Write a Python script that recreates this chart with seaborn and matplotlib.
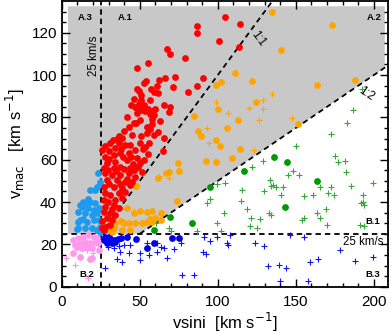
import numpy as np
import pandas as pd
import matplotlib
matplotlib.use('Agg')
import matplotlib.pyplot as plt
import seaborn as sns

# A.1 - red filled circles
red_x = [86.4, 86.4, 67.7, 69.4, 78.9, 55.1, 48.2, 66.4, 72.5, 90.5, 52.7, 71.4, 48.0, 49.5,
         57.2, 61.1, 59.2, 61.5, 80.6, 50.8, 49.5, 47.1, 52.5, 56.6, 48.6, 51.4, 55.1, 53.6,
         60.0, 57.9, 65.2, 69.4, 69.0, 59.4, 48.4, 56.8, 42.0, 57.9, 47.6, 46.5, 54.4, 56.6,
         54.9, 58.9, 65.4, 36.8, 35.6, 38.6, 45.0, 50.8, 31.1, 36.4, 40.7, 43.9, 50.4, 53.6,
         56.1, 64.7, 104.9, 114.3, 100.8, 113.9, 86.9,
         25.7, 27.9, 33.2, 37.5, 42.9, 47.2, 28.9, 34.3, 41.8, 48.2, 50.4, 26.8, 33.2, 37.5,
         43.9, 51.5, 27.9, 32.2, 37.5, 42.9, 47.2, 28.9, 35.4, 40.7, 45.0, 26.8, 33.2, 38.6,
         43.9, 27.9, 31.1, 36.5, 40.7, 26.8, 34.3, 38.6, 27.9, 33.2, 36.5, 26.8, 31.1, 34.3,
         28.9, 32.2, 27.9, 31.1, 26.8, 25.7,
         30.0, 39.5, 45.5, 29.5, 35.0, 40.0, 30.5, 37.0, 42.0, 29.5, 32.0, 25.8, 30.0, 44.5,
         46.0, 49.0, 53.0, 55.0, 52.0, 38.0, 34.0, 28.0, 33.0, 40.0, 43.0, 50.0, 44.5, 46.5,
         51.0, 54.0, 62.0, 58.0, 61.5, 63.0]
red_y = [123.2, 120.1, 112.5, 109.9, 108.3, 105.9, 103.2, 98.8, 99.1, 98.8, 96.2, 94.4, 93.6, 92.7,
         93.6, 94.9, 92.1, 91.4, 92.2, 88.0, 86.2, 84.8, 85.9, 88.3, 83.9, 83.6, 84.2, 82.8,
         84.0, 82.8, 85.9, 85.1, 82.6, 81.2, 82.0, 81.7, 80.2, 79.1, 77.2, 77.2, 75.7, 74.4,
         72.8, 71.7, 70.5, 71.3, 69.7, 70.3, 71.7, 71.0, 67.8, 67.8, 67.0, 67.0, 67.8, 66.2,
         67.8, 64.3, 127.6, 124.2, 116.0, 113.5, 95.0,
         64.6, 61.4, 62.2, 63.0, 63.0, 64.6, 58.3, 59.1, 59.8, 60.6, 58.3, 55.9, 55.9, 56.7,
         55.9, 54.3, 53.6, 52.8, 52.8, 53.6, 52.0, 50.4, 50.4, 49.6, 49.6, 47.3, 47.3, 46.5,
         48.0, 44.1, 43.3, 44.1, 44.9, 41.0, 41.0, 41.7, 37.8, 38.6, 37.0, 35.4, 34.7, 33.9,
         32.3, 31.5, 28.4, 29.1, 26.8, 27.6,
         60.5, 61.5, 58.0, 55.0, 54.5, 55.5, 48.5, 48.5, 51.0, 40.0, 36.5, 31.0, 64.0, 61.5,
         55.0, 56.5, 60.0, 62.5, 65.0, 65.0, 65.5, 66.5, 69.5, 73.5, 75.5, 79.0, 86.0, 88.5,
         90.5, 97.0, 97.5, 77.0, 73.0, 78.5]

# A.2 - orange circles and crosses
orange_x = [134.5, 173.5, 140.5, 111.0, 122.0, 101.8, 99.0, 163.7, 187.9, 124.3, 100.3, 84.9,
            113.2, 106.1, 87.0, 89.4, 98.6, 101.4, 114.5, 151.2, 109.3, 92.6, 98.6, 74.4, 75.1,
            68.6, 67.1, 61.5, 47.8, 41.8, 74.0, 46.5, 50.4, 54.7, 57.9, 63.7, 29.4, 33.2, 31.1,
            34.3, 38.2, 39.7, 42.9, 47.2, 51.5, 54.7, 57.9, 56.8, 60.0, 63.3, 38.6, 43.9, 32.2]
orange_y = [130.0, 123.5, 112.0, 101.2, 97.3, 96.6, 95.2, 95.5, 97.9, 87.5, 84.2, 80.7,
            78.8, 75.2, 73.6, 71.0, 69.1, 66.7, 65.0, 76.9, 60.7, 59.5, 58.7, 58.6, 54.8,
            54.0, 53.6, 51.2, 47.6, 37.0, 40.5, 35.0, 35.9, 35.4, 35.9, 35.0, 26.8, 27.6, 30.7,
            29.9, 30.9, 30.0, 30.2, 30.2, 30.0, 30.7, 30.7, 31.8, 32.3, 31.5, 26.8, 26.8, 26.0]
orange_px = [134.9, 98.6, 129.1, 120.1, 129.1, 106.5, 126.1, 93.0, 94.3, 123.5, 147.8, 62.2, 68.6, 46.1]
orange_py = [91.1, 87.2, 88.0, 84.3, 83.9, 82.2, 78.8, 75.2, 67.8, 64.6, 79.9, 52.3, 51.2, 35.8]

# A.3 - light blue circles
lblue_x = [22.9, 21.4, 18.2, 24.6, 22.5, 15.0, 18.2, 21.4, 11.8, 13.5, 16.5, 12.9, 17.1, 20.4,
           23.6, 10.7, 15.0, 19.3, 22.5, 11.8, 16.1, 20.4, 23.6, 13.9, 10.3, 10.7, 15.0, 19.3,
           22.5, 24.6, 9.6, 24.6]
lblue_y = [53.6, 45.7, 45.7, 49.6, 47.3, 39.4, 40.2, 39.4, 38.6, 40.2, 41.3, 37.8, 37.0, 36.2,
           37.0, 35.4, 34.7, 33.9, 34.7, 31.5, 30.7, 31.5, 31.5, 31.8, 30.7, 27.6, 27.6, 27.6,
           26.8, 28.0, 27.4, 25.8]

# B.2 - pink circles and crosses
pink_x = [7.5, 10.7, 13.9, 17.1, 20.4, 22.5, 8.6, 11.8, 15.0, 18.2, 21.4, 9.6, 12.8, 16.1,
          19.3, 7.5, 11.8, 19.3, 23.6, 23.1, 18.2]
pink_y = [22.1, 22.8, 23.6, 24.4, 23.6, 22.8, 19.7, 20.5, 21.3, 20.5, 21.3, 18.9, 18.1, 18.9,
          18.1, 15.8, 14.2, 13.4, 17.3, 20.5, 13.0]
pink_px = [2.8, 8.6, 16.1, 17.1, 14.0, 20.0]
pink_py = [13.4, 10.2, 17.3, 4.0, 20.0, 16.0]

# B.3 - blue circles and crosses
blue_x = [27.9, 30.7, 33.2, 35.8, 28.9, 32.2, 34.3, 37.9, 41.8, 47.8, 54.7, 59.0, 70.8, 75.1, 26.8, 30.0]
blue_y = [23.6, 22.4, 22.1, 22.5, 20.8, 20.5, 21.0, 22.8, 23.3, 22.4, 18.1, 20.8, 22.8, 22.8, 22.1, 23.6]
blue_px = [29.9, 33.2, 36.4, 39.7, 44.0, 37.5, 42.9, 50.4, 55.8, 61.1, 65.4, 67.6, 50.4, 54.7,
           27.9, 77.2, 84.7, 61.1, 35.4, 38.6, 91.2, 95.0, 99.8, 107.9, 106.2, 106.6, 124.0,
           129.4, 90.8, 92.7, 146.5, 155.1, 178.5, 187.7, 199.5, 164.1, 159.0, 132.4, 139.4,
           143.7, 140.1, 158.1, 71.8, 76.1, 63.3]
blue_py = [18.9, 18.1, 19.2, 19.7, 19.7, 16.5, 15.7, 15.7, 15.0, 16.5, 18.1, 13.4, 12.6, 20.5,
           8.7, 5.5, 5.5, 20.5, 12.9, 11.9, 23.4, 21.6, 23.4, 24.5, 20.5, 19.7, 20.8,
           19.3, 16.3, 15.3, 24.3, 23.4, 17.4, 12.3, 14.2, 13.3, 11.6, 9.8, 10.3,
           8.7, 2.7, 2.7, 17.7, 20.5, 18.6]

# B.1 - green circles and crosses
green_x = [59.0, 69.6, 83.7, 94.8, 117.0, 135.8, 144.2, 163.5, 143.2]
green_y = [26.8, 33.1, 30.2, 47.0, 54.9, 61.2, 59.0, 50.1, 37.5]
green_px = [177.0, 181.7, 181.9, 144.8, 148.2, 152.3, 133.4, 134.1, 129.4, 140.5, 141.6, 104.5,
            99.8, 115.8, 114.8, 104.1, 99.3, 101.9, 93.3, 94.8, 118.6, 121.2, 126.8, 120.8,
            124.9, 133.0, 134.1, 154.0, 155.5, 155.5, 161.1, 165.4, 169.3, 170.1, 163.7, 165.2,
            172.3, 170.5, 174.4, 185.6, 192.9, 193.1, 191.6, 193.5, 199.7, 193.7, 191.4, 86.5,
            129.1, 121.8, 135.5, 137.6, 192.6, 186.6, 182.6, 172.7, 150.2, 175.3, 68.6, 69.7, 60.7]
green_py = [59.1, 59.6, 54.4, 52.8, 54.9, 52.8, 50.5, 47.8, 45.4, 43.4, 47.3, 48.9,
            48.6, 45.7, 40.7, 35.0, 30.3, 26.5, 39.4, 41.3, 36.6, 32.3, 31.9, 28.9,
            27.6, 34.7, 33.9, 31.6, 32.3, 42.9, 43.2, 32.7, 36.6, 29.2, 35.0, 47.3,
            47.3, 44.2, 43.4, 47.6, 43.4, 40.2, 39.4, 38.6, 48.9, 28.7, 29.2, 26.4,
            59.5, 56.5, 48.0, 47.3, 93.3, 83.5, 77.2, 72.2, 66.5, 61.8, 27.6, 26.5, 30.2]

XMAX, YMAX = 209, 135

plt.rcParams['font.family'] = ['Liberation Sans', 'DejaVu Sans']
fig = plt.figure(figsize=(3.91, 3.33), dpi=100)
ax = fig.add_axes([0.158, 0.139, 0.834, 0.858])

# shaded region A
ax.fill([4, 4, 207, 207, 50], [25, 132.5, 132.5, 103.5, 25], color='#c8c8c8', lw=0, zorder=0)

dash = (0, (3, 2.2))
ax.plot([25, 25], [0, YMAX], color='black', ls=dash, lw=1.3, zorder=1)
ax.plot([0, XMAX], [25, 25], color='black', ls=dash, lw=1.3, zorder=1)
ax.plot([25, YMAX], [25, YMAX], color='black', ls=dash, lw=1.3, zorder=1)
ax.plot([50, XMAX], [25, XMAX / 2], color='black', ls=dash, lw=1.3, zorder=1)

circ = dict(s=24, linewidth=0, zorder=3, ax=ax, legend=False)
plus = dict(marker='+', s=22, linewidth=0.8, zorder=3, ax=ax, legend=False)

sns.scatterplot(x=blue_px, y=blue_py, color='#1010ff', **plus)
sns.scatterplot(x=green_px, y=green_py, color='#33aa33', **plus)
sns.scatterplot(x=orange_px, y=orange_py, color='#ffa500', **plus)
sns.scatterplot(x=pink_px, y=pink_py, color='#ff90f0', **plus)
sns.scatterplot(x=pink_x, y=pink_y, color='#ff99ee', **circ)
sns.scatterplot(x=lblue_x, y=lblue_y, color='#1e9bf0', **circ)
sns.scatterplot(x=blue_x, y=blue_y, color='#0000ee', **circ)
sns.scatterplot(x=green_x, y=green_y, color='#009900', **circ)
sns.scatterplot(x=orange_x, y=orange_y, color='#ffa500', **circ)
sns.scatterplot(x=red_x, y=red_y, color='#ff0000', **circ)

lab = dict(fontsize=6.8, fontweight='bold', color='black', zorder=4)
ax.text(10, 127, 'A.3', ha='left', va='center', **lab)
ax.text(36, 127, 'A.1', ha='left', va='center', **lab)
ax.text(205, 127, 'A.2', ha='right', va='center', **lab)
ax.text(204, 31, 'B.1', ha='right', va='center', **lab)
ax.text(204, 6, 'B.3', ha='right', va='center', **lab)
ax.text(11, 6, 'B.2', ha='left', va='center', **lab)
kms = dict(fontsize=8.3, color='black', zorder=4)
ax.text(206, 21, '25 km/s', ha='right', va='center', **kms)
ax.text(20.5, 109, '25 km/s', ha='center', va='center', rotation=90, **kms)
ax.text(126, 117, '1:1', ha='center', va='center', rotation=-54, **kms)
ax.text(195.5, 91.3, '1:2', ha='center', va='center', rotation=-34, **kms)

ax.set_xlim(0, XMAX)
ax.set_ylim(0, YMAX)
ax.set_xticks([0, 50, 100, 150, 200])
ax.set_xticks(np.arange(0, XMAX, 10), minor=True)
ax.set_yticks([0, 20, 40, 60, 80, 100, 120])
ax.set_yticks(np.arange(0, YMAX, 5), minor=True)
ax.tick_params(which='both', direction='in', top=True, right=True, labelsize=11, width=1)
ax.tick_params(which='major', length=6)
ax.tick_params(which='minor', length=3)
ax.tick_params(axis='x', pad=6)
for sp in ax.spines.values():
    sp.set_linewidth(1.3)
ax.set_xlabel('vsini  [km s$^{-1}$]', fontsize=12, labelpad=1)
ax.set_ylabel('v$_{\\rm mac}$   [km s$^{-1}$]', fontsize=12, labelpad=3)

fig.savefig('out.png', dpi=100)
